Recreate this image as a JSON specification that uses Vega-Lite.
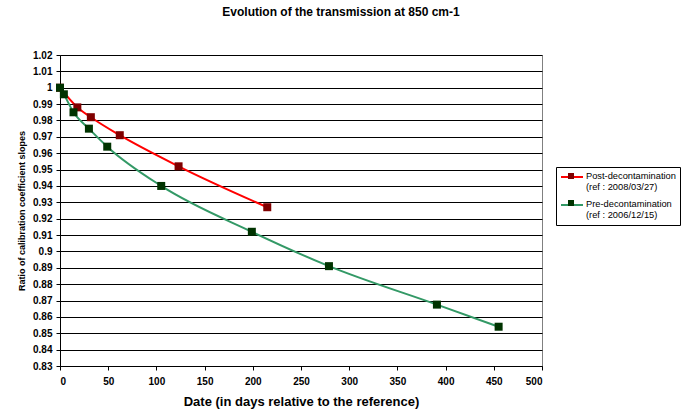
{
  "$schema": "https://vega.github.io/schema/vega-lite/v6.json",
  "width": 482,
  "height": 311,
  "autosize": "none",
  "padding": {"left": 60, "top": 55, "right": 140, "bottom": 46},
  "background": "white",
  "title": {
    "text": "Evolution of the transmission at 850 cm-1",
    "font": "Liberation Sans",
    "fontSize": 12,
    "fontWeight": "bold",
    "color": "black",
    "anchor": "middle",
    "dx": 40,
    "offset": 31
  },
  "config": {
    "view": {"stroke": "#808080", "strokeWidth": 1},
    "font": "Liberation Sans"
  },
  "data": {
    "values": [
      {"series": "Post-decontamination|(ref : 2008/03/27)", "day": 0, "ratio": 1.0},
      {"series": "Post-decontamination|(ref : 2008/03/27)", "day": 18, "ratio": 0.988},
      {"series": "Post-decontamination|(ref : 2008/03/27)", "day": 32, "ratio": 0.982},
      {"series": "Post-decontamination|(ref : 2008/03/27)", "day": 62, "ratio": 0.971},
      {"series": "Post-decontamination|(ref : 2008/03/27)", "day": 123, "ratio": 0.952},
      {"series": "Post-decontamination|(ref : 2008/03/27)", "day": 215, "ratio": 0.927},
      {"series": "Pre-decontamination|(ref : 2006/12/15)", "day": 0, "ratio": 1.0},
      {"series": "Pre-decontamination|(ref : 2006/12/15)", "day": 4, "ratio": 0.996},
      {"series": "Pre-decontamination|(ref : 2006/12/15)", "day": 14, "ratio": 0.985},
      {"series": "Pre-decontamination|(ref : 2006/12/15)", "day": 30, "ratio": 0.975},
      {"series": "Pre-decontamination|(ref : 2006/12/15)", "day": 49, "ratio": 0.964},
      {"series": "Pre-decontamination|(ref : 2006/12/15)", "day": 105, "ratio": 0.94},
      {"series": "Pre-decontamination|(ref : 2006/12/15)", "day": 199, "ratio": 0.912},
      {"series": "Pre-decontamination|(ref : 2006/12/15)", "day": 279, "ratio": 0.891},
      {"series": "Pre-decontamination|(ref : 2006/12/15)", "day": 391, "ratio": 0.8675},
      {"series": "Pre-decontamination|(ref : 2006/12/15)", "day": 455, "ratio": 0.854}
    ]
  },
  "encoding": {
    "x": {
      "field": "day", "type": "quantitative",
      "scale": {"domain": [0, 500], "nice": false},
      "axis": {
        "title": "Date (in days relative to the reference)",
        "titleFont": "Liberation Sans", "titleFontSize": 13, "titleFontWeight": "bold", "titleColor": "black",
        "titlePadding": 9,
        "values": [0, 50, 100, 150, 200, 250, 300, 350, 400, 450, 500],
        "grid": false,
        "labelFont": "Liberation Sans", "labelFontSize": 10, "labelFontWeight": "bold", "labelColor": "black",
        "labelPadding": 6,
        "domainColor": "black", "tickColor": "black", "tickSize": 4
      }
    },
    "y": {
      "field": "ratio", "type": "quantitative",
      "scale": {"domain": [0.83, 1.02], "nice": false, "zero": false},
      "axis": {
        "title": "Ratio of calibration coefficient slopes",
        "titleFont": "Liberation Sans", "titleFontSize": 9, "titleFontWeight": "bold", "titleColor": "black",
        "titlePadding": 6,
        "values": [0.83, 0.84, 0.85, 0.86, 0.87, 0.88, 0.89, 0.9, 0.91, 0.92, 0.93, 0.94, 0.95, 0.96, 0.97, 0.98, 0.99, 1, 1.01, 1.02],
        "format": "~g",
        "grid": true, "gridColor": "black", "gridOpacity": 1, "gridWidth": 1,
        "labelFont": "Liberation Sans", "labelFontSize": 10, "labelFontWeight": "bold", "labelColor": "black",
        "labelPadding": 4,
        "domainColor": "black", "tickColor": "black", "tickSize": 4
      }
    }
  },
  "layer": [
    {
      "mark": {"type": "line", "interpolate": "monotone", "strokeWidth": 2},
      "encoding": {
        "stroke": {
          "field": "series", "type": "nominal",
          "scale": {"domain": ["Post-decontamination|(ref : 2008/03/27)", "Pre-decontamination|(ref : 2006/12/15)"], "range": ["#FF0000", "#339966"]},
          "legend": {
            "title": null,
            "orient": "none",
            "legendX": 496,
            "legendY": 112,
            "zindex": 1,
            "strokeColor": "black",
            "fillColor": "white",
            "padding": 4,
            "labelExpr": "split(datum.label, '|')",
            "labelFont": "Liberation Sans",
            "labelFontSize": 9.3,
            "labelColor": "black",
            "labelLimit": 200,
            "labelBaseline": "top",
            "symbolType": "M-1,0H3.4",
            "symbolSize": 100,
            "symbolStrokeWidth": 2,
            "rowPadding": 6,
            "labelOffset": 14,
            "encode": {"labels": {"update": {"dy": {"value": -5}}}}
          }
        }
      }
    },
    {
      "mark": {"type": "point", "shape": "square", "filled": true, "size": 64, "opacity": 1},
      "encoding": {
        "fill": {
          "field": "series", "type": "nominal",
          "scale": {"domain": ["Pre-decontamination|(ref : 2006/12/15)", "Post-decontamination|(ref : 2008/03/27)"], "range": ["#003300", "#800000"]},
          "legend": {
            "title": null,
            "orient": "none",
            "legendX": 496,
            "legendY": 112,
            "zindex": 2,
            "values": ["Post-decontamination|(ref : 2008/03/27)", "Pre-decontamination|(ref : 2006/12/15)"],
            "padding": 4,
            "labelExpr": "[' ', ' ']",
            "labelFont": "Liberation Sans",
            "labelFontSize": 9.3,
            "labelColor": "black",
            "labelLimit": 200,
            "labelBaseline": "top",
            "symbolType": "M0.6,-0.6H1.8V0.6H0.6Z",
            "symbolSize": 100,
            "symbolStrokeWidth": 0,
            "symbolOpacity": 1,
            "rowPadding": 6,
            "labelOffset": 14,
            "encode": {"labels": {"update": {"dy": {"value": -5}}}}
          }
        }
      }
    }
  ]
}
